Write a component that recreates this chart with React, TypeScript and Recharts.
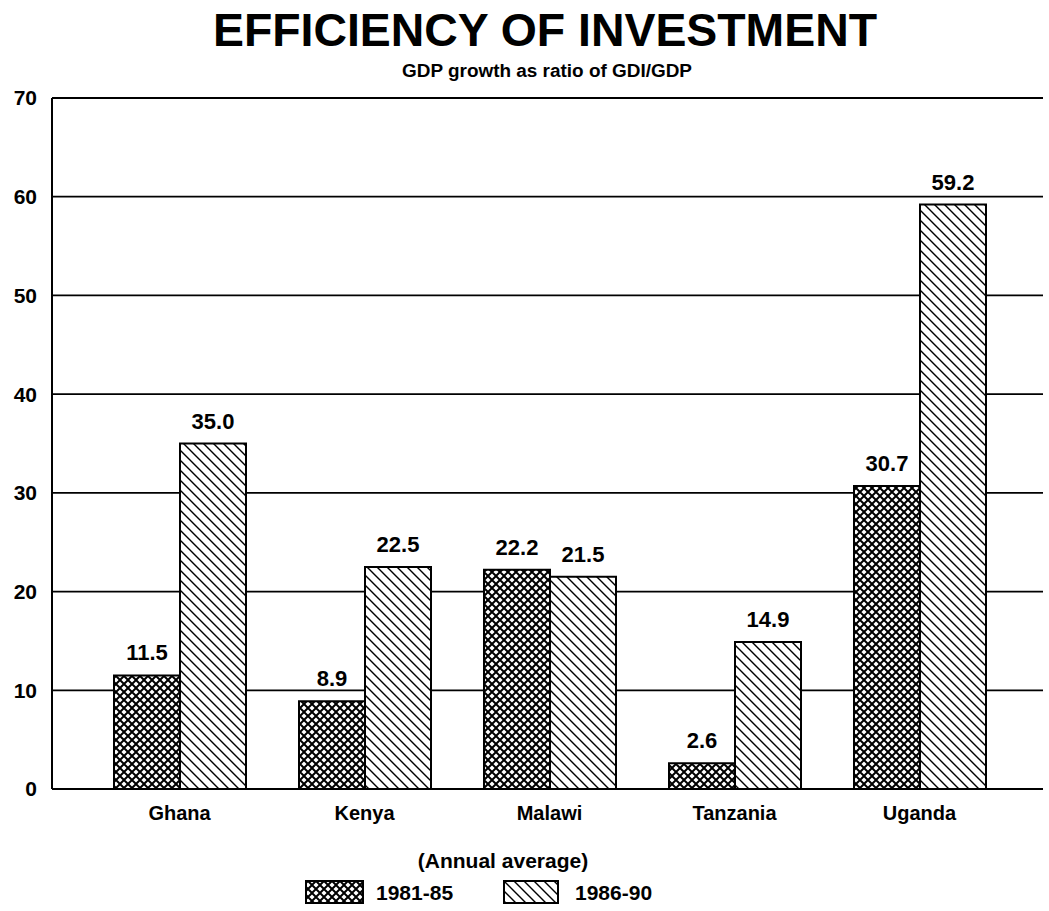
import { BarChart, Bar, XAxis, YAxis, CartesianGrid, LabelList, Legend } from 'recharts'

document.body.style.margin = '0'

// data
const countries = ['Ghana', 'Kenya', 'Malawi', 'Tanzania', 'Uganda']
const avg8185 = [11.5, 8.9, 22.2, 2.6, 30.7]
const avg8690 = [35.0, 22.5, 21.5, 14.9, 59.2]
const yTicks = [0, 10, 20, 30, 40, 50, 60, 70]

const seriesNames = ['1981-85', '1986-90']

const rows = countries.map((c, i) => ({
  country: c,
  a: avg8185[i],
  b: avg8690[i],
}))

const FONT = '"Liberation Sans", Arial, sans-serif'

// legend drawn under the plot
const LegendBox = () => (
  <div style={{ width: 1049, height: 70, fontFamily: FONT, fontWeight: 700, color: '#000', position: 'relative' }}>
    <div style={{ position: 'absolute', left: 0, width: 1006, top: 8, textAlign: 'center', fontSize: 21 }}>
      (Annual average)
    </div>
    <svg width={1049} height={40} style={{ position: 'absolute', left: 0, top: 36 }}>
      <rect x={306} y={4} width={57} height={22} fill="url(#xhatch)" stroke="#000" strokeWidth={2} />
      <text x={376} y={23} fontSize={21} fontWeight={700} fontFamily={FONT}>{seriesNames[0]}</text>
      <rect x={504} y={4} width={54} height={22} fill="url(#dhatch)" stroke="#000" strokeWidth={2} />
      <text x={575} y={23} fontSize={21} fontWeight={700} fontFamily={FONT}>{seriesNames[1]}</text>
    </svg>
  </div>
)

export default function App() {
  return (
    <div style={{ position: 'relative', width: 1049, height: 911, background: '#fff' }}>
      <svg width={1049} height={95} style={{ position: 'absolute', left: 0, top: 0 }}>
        <text x={545} y={46} textAnchor="middle" fontSize={47} fontWeight={700} fontFamily={FONT}
          textLength={664} lengthAdjust="spacingAndGlyphs">EFFICIENCY OF INVESTMENT</text>
        <text x={547} y={77} textAnchor="middle" fontSize={18} fontWeight={700} fontFamily={FONT}
          textLength={290} lengthAdjust="spacingAndGlyphs">GDP growth as ratio of GDI/GDP</text>
      </svg>
      <BarChart width={1049} height={911} data={rows}
        margin={{ top: 98, right: 6, bottom: 22, left: 0 }}
        barGap={0} barCategoryGap={26}>
        <defs>
          <pattern id="xhatch" patternUnits="userSpaceOnUse" width={8} height={8}>
            <rect width={8} height={8} fill="#fff" />
            <path d="M0,0 L8,8 M8,0 L0,8" stroke="#000" strokeWidth={2} />
          </pattern>
          <pattern id="dhatch" patternUnits="userSpaceOnUse" width={10} height={10}>
            <rect width={10} height={10} fill="#fff" />
            <path d="M0,0 L10,10 M-2,8 L2,12 M8,-2 L12,2" stroke="#000" strokeWidth={1.4} />
          </pattern>
        </defs>
        <CartesianGrid vertical={false} stroke="#000" strokeWidth={1.8} />
        <XAxis dataKey="country" padding={{ left: 35, right: 31 }} tickLine={false}
          axisLine={{ stroke: '#000', strokeWidth: 2 }}
          tick={{ fill: '#000', fontSize: 20, fontWeight: 700, fontFamily: FONT }} tickMargin={11} />
        <YAxis width={52} domain={[0, 70]} ticks={yTicks} interval={0} tickLine={false}
          axisLine={{ stroke: '#000', strokeWidth: 2 }} tickMargin={9}
          tick={{ fill: '#000', fontSize: 21, fontWeight: 700, fontFamily: FONT }} />
        <YAxis yAxisId="r" orientation="right" width={0} domain={[0, 70]} tick={false} tickLine={false}
          axisLine={{ stroke: '#000', strokeWidth: 2 }} />
        <Legend verticalAlign="bottom" content={() => <LegendBox />}
          wrapperStyle={{ left: 0, top: 841, bottom: 'auto', width: 1049 }} />
        <Bar dataKey="a" name={seriesNames[0]} fill="url(#xhatch)" stroke="#000" strokeWidth={2}
          barSize={66} isAnimationActive={false}>
          <LabelList dataKey="a" position="top" offset={15} formatter={(v: any) => Number(v).toFixed(1)}
            style={{ fill: '#000', fontSize: 22, fontWeight: 700, fontFamily: FONT }} />
        </Bar>
        <Bar dataKey="b" name={seriesNames[1]} fill="url(#dhatch)" stroke="#000" strokeWidth={2}
          barSize={66} isAnimationActive={false}>
          <LabelList dataKey="b" position="top" offset={15} formatter={(v: any) => Number(v).toFixed(1)}
            style={{ fill: '#000', fontSize: 22, fontWeight: 700, fontFamily: FONT }} />
        </Bar>
      </BarChart>
    </div>
  )
}
